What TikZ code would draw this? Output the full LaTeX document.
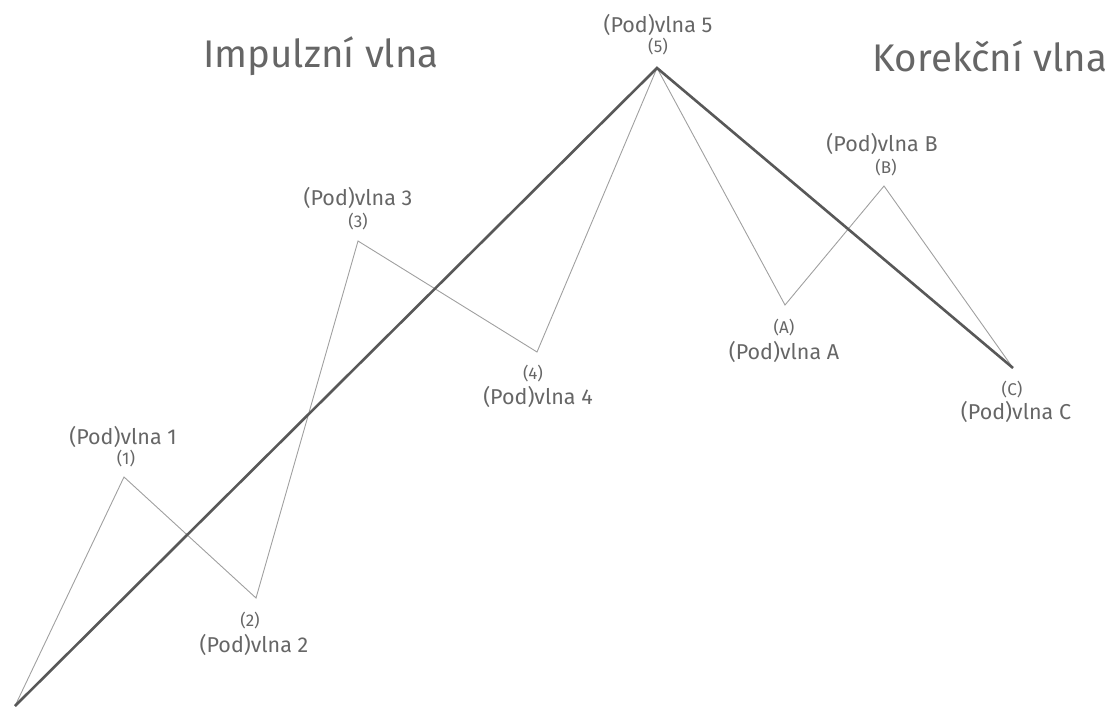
\documentclass[tikz,border=0pt]{standalone}
\usepackage{fontspec}
\setmainfont{Fira Sans}
\definecolor{txt}{HTML}{666666}
\definecolor{thin}{HTML}{A0A0A0}
\definecolor{thick}{HTML}{585858}
\begin{document}
\begin{tikzpicture}[x=1pt,y=-1pt,
  lbl/.style={text=txt,font=\fontsize{21.5}{24}\selectfont,inner sep=0pt},
  sm/.style={text=txt,font=\fontsize{17}{19}\selectfont,inner sep=0pt},
  title/.style={text=txt,font=\fontsize{38.5}{42}\selectfont,inner sep=0pt},
  thinline/.style={draw=thin,line width=0.9pt,line join=miter},
  thickline/.style={draw=thick,line width=2.6pt,line join=miter}]
\useasboundingbox (0,0) rectangle (1110,709);
\coordinate (s) at (15,706);
\coordinate (p1) at (124,477);
\coordinate (p2) at (256,598);
\coordinate (p3) at (358,241);
\coordinate (p4) at (537,352);
\coordinate (p5) at (657,68);
\coordinate (pA) at (785,305);
\coordinate (pB) at (884,186);
\coordinate (pC) at (1013,368);
\draw[thinline] (s) -- (p1) -- (p2) -- (p3) -- (p4) -- (p5) -- (pA) -- (pB) -- (pC);
\draw[thickline] (s) -- (p5) -- (pC);
\node[title] (t1) at (321,56) {Impulzní vlna};
\node[title] (t2) at (990,56) {Korekční vlna};
\node[lbl] (l5) at (658,25) {(Pod)vlna 5};
\node[sm] (n5) at (658,47) {(5)};
\node[lbl] (l1) at (123,437) {(Pod)vlna 1};
\node[sm] (n1) at (126,459) {(1)};
\node[sm] (n2) at (250,621) {(2)};
\node[lbl] (l2) at (254,645) {(Pod)vlna 2};
\node[lbl] (l3) at (358,198) {(Pod)vlna 3};
\node[sm] (n3) at (358,222) {(3)};
\node[sm] (n4) at (533,374) {(4)};
\node[lbl] (l4) at (538,397) {(Pod)vlna 4};
\node[sm] (nA) at (784,328) {(A)};
\node[lbl] (lA) at (784,352) {(Pod)vlna A};
\node[lbl] (lB) at (882,144) {(Pod)vlna B};
\node[sm] (nB) at (886,168) {(B)};
\node[sm] (nC) at (1012,390) {(C)};
\node[lbl] (lC) at (1016,412) {(Pod)vlna C};
\end{tikzpicture}
\end{document}
